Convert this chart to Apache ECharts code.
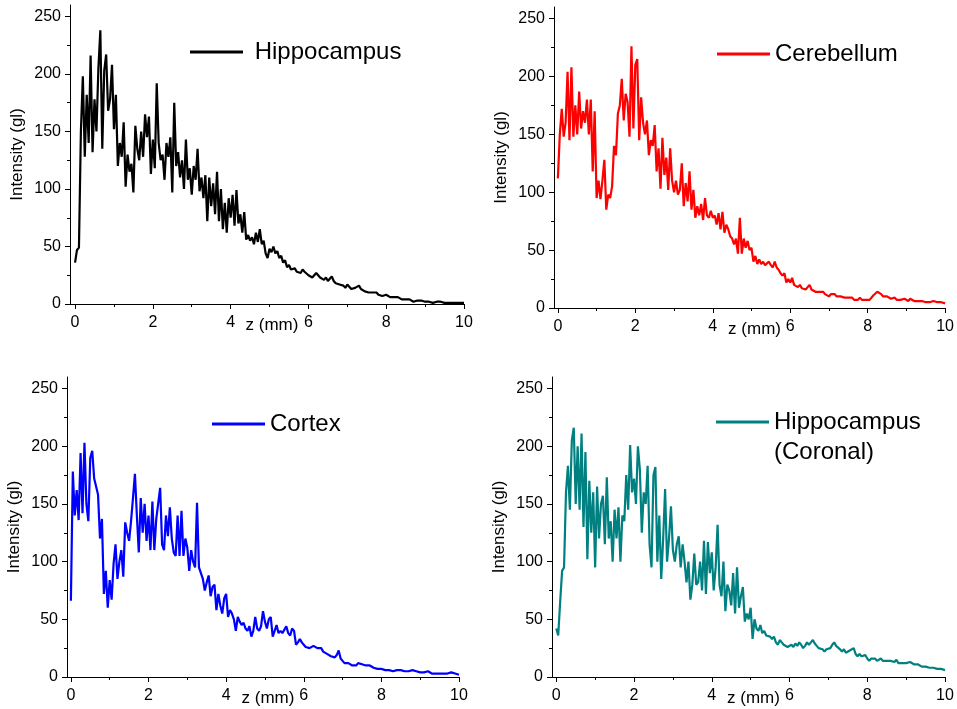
<!DOCTYPE html>
<html><head><meta charset="utf-8">
<script src="https://cdn.jsdelivr.net/npm/echarts@6/dist/echarts.min.js"></script>
<style>html,body{margin:0;padding:0;background:#fff}#c{width:957px;height:709px}</style>
</head><body><div id="c"></div>
<script>
// sampling step of the profiles along z (mm), 0 .. 10
const zStep = 0.05;
const zCount = 201;

const hippocampus = [
36,47,49,150,198,128,182,140,216,132,178,150,205,238,135,203,217,168,178,208,
152,182,120,140,128,158,102,130,115,122,97,155,135,125,150,128,165,145,163,113,
143,118,192,140,125,130,108,140,128,145,97,175,120,132,110,125,100,143,108,118,
95,120,108,135,98,110,92,112,72,110,85,105,78,115,72,100,65,88,62,92,
75,95,68,99,70,78,62,80,56,60,55,58,52,62,54,65,52,55,44,40,
48,45,50,44,46,40,42,36,38,32,34,30,29,31,28,29,27,30,28,29,
25,24,23,25,27,26,23,22,21,23,20,22,24,20,18,19,17,18,16,14,
17,15,13,14,14,15,16,13,12,11,10,10,11,10,9,10,8,8,7,8,
8,7,6,7,6,5,6,5,4,5,4,3,4,3,2,3,3,2,3,2,
2,3,2,2,1,2,2,1,2,1,1,2,1,1,1,1,1,1,1,1,
1];

const cerebellum = [
112,150,172,148,160,204,145,208,148,175,150,187,155,170,160,180,150,180,118,170,
95,110,94,110,128,85,98,95,105,140,132,168,175,198,162,185,178,148,226,155,
210,215,145,182,160,150,162,132,145,140,158,118,138,103,147,115,130,102,138,110,
100,110,98,102,125,88,108,92,118,85,102,78,88,80,90,76,95,80,78,84,
78,80,72,82,68,83,65,72,68,62,60,55,60,47,78,47,60,52,58,50,
52,40,45,38,42,38,40,37,36,40,37,35,40,35,33,30,28,30,22,25,
22,26,20,21,18,20,17,18,16,18,20,16,15,14,15,14,13,14,12,13,
10,12,11,12,10,11,10,11,9,10,9,8,9,7,8,7,9,7,6,7,
6,7,8,11,12,14,15,12,10,9,10,9,8,8,9,7,6,7,6,8,
7,6,8,7,6,7,6,5,6,7,5,6,5,4,6,5,5,4,5,4,
4];

const cortex = [
66,178,140,162,136,194,142,203,150,135,190,196,172,165,158,120,137,72,92,60,
84,67,98,115,85,100,110,87,134,125,118,135,155,176,140,108,155,125,150,118,
140,110,152,110,137,136,164,115,110,140,122,147,120,108,105,140,105,144,105,120,
112,92,110,100,95,151,95,90,85,75,82,88,70,78,80,58,72,62,55,68,
72,52,58,55,50,40,52,48,45,47,42,40,44,35,40,52,42,40,44,57,
48,42,50,52,35,40,45,38,40,38,37,44,38,36,42,40,28,30,33,30,
28,26,27,25,26,27,27,25,24,25,22,21,20,19,18,18,17,19,23,16,
14,12,11,12,11,10,11,10,12,11,11,12,10,11,10,9,8,8,7,8,
7,7,6,7,6,6,5,6,6,7,6,6,5,6,5,5,6,5,5,5,
4,5,4,4,5,4,3,4,3,4,3,4,3,4,3,3,4,3,3,3,
2];

const hippocampusCoronal = [
42,36,65,92,95,160,183,145,205,216,150,200,145,211,130,195,102,170,125,160,
95,165,120,150,157,115,173,120,135,100,145,120,147,100,140,135,175,145,201,160,
172,150,200,180,125,160,150,183,115,95,175,182,100,140,85,120,163,100,120,148,
110,100,115,122,95,115,100,82,100,67,80,107,80,82,100,75,118,72,117,90,
108,75,95,132,80,70,100,57,80,75,62,90,55,95,60,70,78,48,55,50,
60,33,50,42,40,45,38,40,36,37,35,33,35,30,28,32,30,28,27,26,
27,28,26,29,27,30,28,25,27,30,28,30,32,29,27,25,26,24,22,24,
23,25,28,30,27,26,24,22,24,21,20,23,22,25,20,18,20,18,19,19,
16,14,16,15,16,14,15,16,14,13,14,13,14,15,13,15,12,11,12,11,
12,11,13,14,11,10,11,10,9,10,9,9,8,9,8,8,7,7,7,6,
6];

const seriesNames = ['Hippocampus', 'Cerebellum', 'Cortex', 'Hippocampus\n(Coronal)'];
const seriesValues = [hippocampus, cerebellum, cortex, hippocampusCoronal];
const colors = ['#000000', '#ff0000', '#0000ff', '#008080'];

const xTickValues = [0, 2, 4, 6, 8, 10];
const xMinorTickValues = [1, 3, 5, 7, 9];
const yTickValues = [0, 50, 100, 150, 200, 250];
const yMinorTickValues = [25, 75, 125, 175, 225];
const xAxisName = 'z (mm)';
const yAxisName = 'Intensity (gl)';

const FONT = '"Liberation Sans", Arial, sans-serif';

const layout = [
  { grid: { left: 70, top: 5, width: 394, height: 299 }, xmin: -0.13, legend: { left: 190, top: 37 }, fmt: ' {name}' },
  { grid: { left: 554, top: 7, width: 392, height: 301 }, xmin: -0.1, legend: { left: 717, top: 39 }, fmt: '{name}' },
  { grid: { left: 67, top: 377, width: 392, height: 300 }, xmin: -0.1, legend: { left: 212, top: 409 }, fmt: '{name}' },
  { grid: { left: 552, top: 377, width: 393, height: 300 }, xmin: -0.11, legend: { left: 716, top: 377 }, fmt: '\n{name}' }
];

const grids = [], xAxes = [], yAxes = [], series = [], legends = [];
layout.forEach((p, i) => {
  grids.push(Object.assign({ containLabel: false }, p.grid));
  const lineStyle = { color: '#000', width: 1 };
  xAxes.push({
    type: 'value', gridIndex: i, min: p.xmin, max: 10, position: 'bottom',
    axisLine: { show: true, onZero: false, lineStyle },
    axisTick: { show: true, length: 5, customValues: xTickValues, lineStyle },
    axisLabel: { customValues: xTickValues, margin: 11, fontSize: 16, color: '#000', fontFamily: FONT },
    splitLine: { show: false },
    name: xAxisName, nameLocation: 'middle', nameGap: 13, nameMoveOverlap: false,
    nameTextStyle: { fontSize: 17, color: '#000', fontFamily: FONT, padding: [0, 0, 0, 10] }
  });
  xAxes.push({
    type: 'value', gridIndex: i, min: p.xmin, max: 10, position: 'bottom',
    axisLine: { show: false, onZero: false },
    axisTick: { show: true, length: 3, customValues: xMinorTickValues, lineStyle },
    axisLabel: { show: false }, splitLine: { show: false }
  });
  yAxes.push({
    type: 'value', gridIndex: i, min: 0, max: 260, position: 'left',
    axisLine: { show: true, onZero: false, lineStyle },
    axisTick: { show: true, length: 5, customValues: yTickValues, lineStyle },
    axisLabel: { customValues: yTickValues, margin: 9, fontSize: 16, color: '#000', fontFamily: FONT },
    splitLine: { show: false },
    name: yAxisName, nameLocation: 'middle', nameGap: 44, nameRotate: 90, nameMoveOverlap: false,
    nameTextStyle: { fontSize: 17, color: '#000', fontFamily: FONT }
  });
  yAxes.push({
    type: 'value', gridIndex: i, min: 0, max: 260, position: 'left',
    axisLine: { show: false, onZero: false },
    axisTick: { show: true, length: 3, customValues: yMinorTickValues, lineStyle },
    axisLabel: { show: false }, splitLine: { show: false }
  });
  const vals = seriesValues[i];
  const data = [];
  for (let k = 0; k < zCount; k++) data.push([+(k * zStep).toFixed(2), vals[k]]);
  series.push({
    type: 'line', name: seriesNames[i], xAxisIndex: 2 * i, yAxisIndex: 2 * i,
    data, symbol: 'none', showSymbol: false,
    lineStyle: { color: colors[i], width: 2.2 }, itemStyle: { color: colors[i] },
    animation: false
  });
  legends.push({
    data: [seriesNames[i]], left: p.legend.left, top: p.legend.top,
    orient: 'vertical', icon: 'rect', itemWidth: 53, itemHeight: 3,
    padding: 0, selectedMode: false, formatter: p.fmt,
    textStyle: { fontSize: 24, color: '#000', fontFamily: FONT, lineHeight: 30 }
  });
});

const chart = echarts.init(document.getElementById('c'), null, { renderer: 'canvas' });
chart.setOption({
  animation: false, backgroundColor: '#fff',
  grid: grids, xAxis: xAxes, yAxis: yAxes, series, legend: legends
});
</script>
</body></html>
